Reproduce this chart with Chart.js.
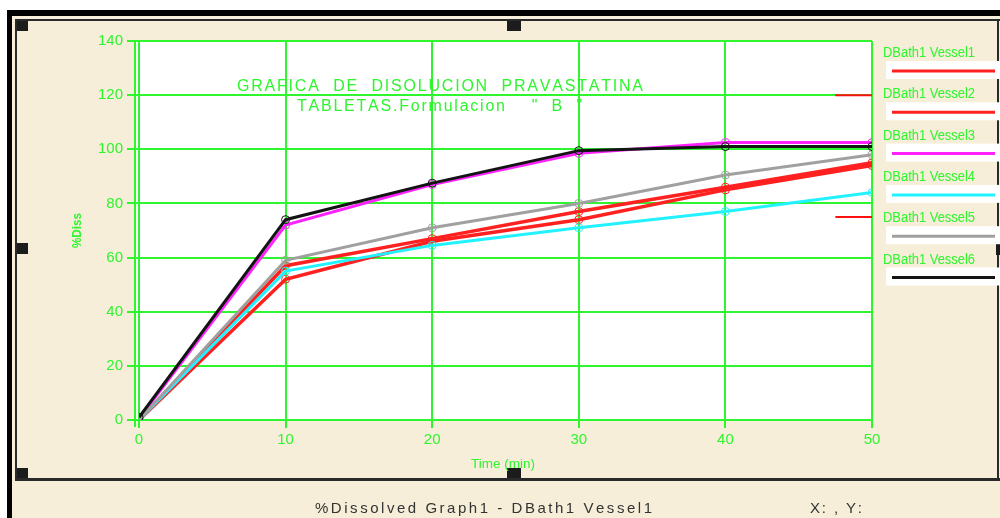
<!DOCTYPE html>
<html><head><meta charset="utf-8">
<script src="https://cdn.jsdelivr.net/npm/chart.js@4"></script>
<style>html,body{margin:0;padding:0;background:#fff;overflow:hidden}canvas{display:block}</style>
</head><body>
<div style="width:1000px;height:518px;position:relative"><canvas id="c" width="1000" height="518"></canvas></div>
<script>
// ---- data ----
const times = [0, 10, 20, 30, 40, 50];
const vessel1 = [0, 57, 67, 77, 86, 95];
const vessel2 = [0, 52, 66, 74, 85, 94];
const vessel3 = [0.5, 72, 87, 98.5, 102.5, 102.5];
const vessel4 = [0, 55, 64.5, 71, 77, 84];
const vessel5 = [0, 59, 71, 80, 90.5, 98];
const vessel6 = [1, 74, 87.5, 99.5, 101, 101];
const seriesLabels = ["DBath1 Vessel1", "DBath1 Vessel2", "DBath1 Vessel3", "DBath1 Vessel4", "DBath1 Vessel5", "DBath1 Vessel6"];
const seriesColors = ["#ff2020", "#ff2020", "#ff22ff", "#22f2ff", "#a0a0a0", "#141414"];
const seriesWidths = [3.5, 3.5, 3, 3, 3, 3];
const markerX = [47.5, 50];
const markerY1 = [120, 120];
const markerY2 = [75, 75];
const xTicks = [0, 10, 20, 30, 40, 50];
const yTicks = [0, 20, 40, 60, 80, 100, 120, 140];
const titleLine1 = "GRAFICA  DE  DISOLUCION  PRAVASTATINA";
const titleLine2a = "TABLETAS.Formulacion";
const titleLine2b = "    \"  B  \"";
const yTitle = "%Diss";
const xTitle = "Time (min)";
const statusText = "%Dissolved Graph1 - DBath1 Vessel1";
const statusXY = "X: , Y:";

const GREEN = "#2ef52e";
const BEIGE = "#f6eed8";
const allSeries = [vessel1, vessel2, vessel3, vessel4, vessel5, vessel6];

const datasets = allSeries.map((vals, i) => ({
  label: seriesLabels[i],
  data: times.map((t, j) => ({x: t, y: vals[j]})),
  borderColor: seriesColors[i],
  borderWidth: seriesWidths[i],
  pointRadius: 4,
  pointBorderWidth: 1,
  pointBackgroundColor: "rgba(0,0,0,0)",
  pointBorderColor: seriesColors[i],
  tension: 0,
  order: 6 - i
}));
[markerY1, markerY2].forEach(ys => datasets.push({
  label: "", isMarker: true,
  data: markerX.map((x, j) => ({x, y: ys[j]})),
  borderColor: "#ff1010", borderWidth: 2, pointRadius: 0, order: -1
}));

function spaced(ctx, text, x, y, gap) {
  let cx = x;
  for (const ch of text) { ctx.fillText(ch, cx, y); cx += ctx.measureText(ch).width + gap; }
  return cx;
}
function gapFor(ctx, text, w) {
  let tot = 0, n = 0;
  for (const ch of text) { tot += ctx.measureText(ch).width; n++; }
  return n > 1 ? (w - tot) / (n - 1) : 0;
}
function fitText(ctx, text, x, y, w) {
  const m = ctx.measureText(text).width;
  ctx.save(); ctx.translate(x, y); ctx.scale(w / m, 1); ctx.fillText(text, 0, 0); ctx.restore();
}

const framePlugin = {
  id: "frame",
  beforeDraw(chart) {
    const ctx = chart.ctx, a = chart.chartArea;
    ctx.save();
    ctx.fillStyle = "#fff"; ctx.fillRect(0, 0, 1000, 518);
    ctx.fillStyle = BEIGE; ctx.fillRect(12, 16, 988, 502);
    ctx.fillStyle = "#000";
    ctx.fillRect(7, 10, 993, 6);
    ctx.fillRect(7, 10, 5, 508);
    ctx.fillStyle = "#2a2a2a";
    ctx.fillRect(15, 19, 985, 2);
    ctx.fillRect(15, 19, 2, 462);
    ctx.fillRect(15, 478, 985, 3);
    ctx.fillRect(997, 19, 2, 462);
    ctx.fillStyle = "#1c1c1c";
    ctx.fillRect(17, 21, 11, 10);
    ctx.fillRect(507, 21, 14, 10);
    ctx.fillRect(17, 243, 11, 11);
    ctx.fillRect(17, 468, 11, 10);
    ctx.fillRect(507, 468, 14, 10);
    ctx.fillRect(996, 243, 4, 12);
    ctx.fillStyle = "#fff";
    ctx.fillRect(a.left - 4, a.top, a.right - a.left + 4, a.bottom - a.top);
    ctx.restore();
  },
  afterDraw(chart) {
    const ctx = chart.ctx, a = chart.chartArea;
    ctx.save();
    // double left axis line
    ctx.strokeStyle = GREEN; ctx.lineWidth = 2;
    ctx.beginPath(); ctx.moveTo(a.left - 4, a.top); ctx.lineTo(a.left - 4, a.bottom + 7); ctx.stroke();
    // title
    ctx.fillStyle = GREEN;
    ctx.font = "16px 'Liberation Sans', Arial, sans-serif";
    ctx.textBaseline = "alphabetic";
    spaced(ctx, titleLine1, 237, 91, gapFor(ctx, titleLine1, 406));
    const g2 = gapFor(ctx, titleLine2a, 208);
    const nx = spaced(ctx, titleLine2a, 297, 111, g2);
    spaced(ctx, titleLine2b, nx, 111, g2);
    // axis titles
    ctx.font = "bold 12px 'Liberation Sans Narrow', 'Liberation Sans', Arial, sans-serif";
    ctx.save(); ctx.translate(81, 248); ctx.rotate(-Math.PI / 2);
    fitText(ctx, yTitle, 0, 0, 35); ctx.restore();
    ctx.font = "13px 'Liberation Sans Narrow', 'Liberation Sans', Arial, sans-serif";
    fitText(ctx, xTitle, 471, 468, 64);
    // legend
    chart.data.datasets.forEach((ds, i) => {
      if (ds.isMarker) return;
      const base = 57 + i * 41.3;
      ctx.fillStyle = GREEN;
      ctx.font = "14px 'Liberation Sans Narrow', 'Liberation Sans', Arial, sans-serif";
      fitText(ctx, ds.label, 883, base, 92);
      ctx.fillStyle = "#fff";
      ctx.fillRect(886, base + 4, 114, 18);
      ctx.strokeStyle = ds.borderColor; ctx.lineWidth = 3;
      ctx.beginPath(); ctx.moveTo(892, base + 14); ctx.lineTo(995, base + 14); ctx.stroke();
    });
    // status bar
    ctx.fillStyle = "#333";
    ctx.font = "15px 'Liberation Sans', Arial, sans-serif";
    spaced(ctx, statusText, 315, 513, gapFor(ctx, statusText, 337));
    spaced(ctx, statusXY, 810, 513, gapFor(ctx, statusXY, 52));
    ctx.restore();
  }
};

new Chart(document.getElementById("c"), {
  type: "line",
  data: {datasets},
  plugins: [framePlugin],
  options: {
    responsive: false, animation: false, devicePixelRatio: 1,
    layout: {padding: {left: 0, top: 41, right: 128, bottom: 0}},
    plugins: {legend: {display: false}, tooltip: {enabled: false}, title: {display: false}},
    scales: {
      x: {
        type: "linear", min: 0, max: 50,
        afterBuildTicks: s => { s.ticks = xTicks.map(v => ({value: v})); },
        afterFit: s => { s.height = 98; },
        ticks: {color: GREEN, font: {family: "'Liberation Sans', Arial", size: 15}, padding: 3, maxRotation: 0},
        grid: {color: GREEN, lineWidth: 2, tickLength: 8, tickColor: GREEN},
        border: {display: false}
      },
      y: {
        type: "linear", min: 0, max: 140,
        afterBuildTicks: s => { s.ticks = yTicks.map(v => ({value: v})); },
        afterFit: s => { s.width = 139; },
        ticks: {color: GREEN, font: {family: "'Liberation Sans', Arial", size: 15}, padding: 4},
        grid: {color: GREEN, lineWidth: 2, tickLength: 12, tickColor: GREEN},
        border: {display: false}
      }
    }
  }
});
</script>
</body></html>
